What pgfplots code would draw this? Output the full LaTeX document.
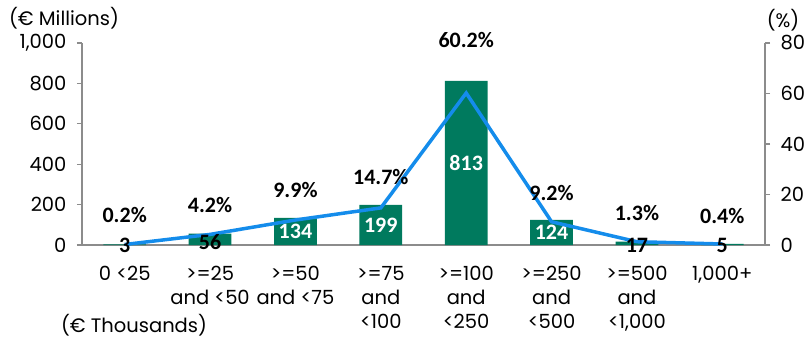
\documentclass[border=0pt]{standalone}
\usepackage{pgfplots}
\pgfplotsset{compat=1.18}
\usepackage{fontspec}
\setmainfont{Poppins}
\newfontfamily\lblfont{Carlito}
\definecolor{barg}{RGB}{0,122,94}
\definecolor{lineb}{RGB}{20,140,235}
\definecolor{axg}{RGB}{140,140,140}
\begin{document}
\begin{tikzpicture}
\pgfplotsset{
  base/.style={
    scale only axis, width=683pt, height=202pt,
    xmin=-0.5, xmax=7.5,
    axis line style={axg, line width=1.2pt},
    tick style={axg, line width=1.2pt},
    tick label style={font=\fontsize{19.5}{22}\selectfont},
    /pgf/number format/assume math mode=true,
  }
}
\begin{axis}[base,
  ymin=0, ymax=1000, ytick={0,200,400,600,800,1000},
  axis y line*=left, axis x line*=bottom,
  y tick label style={/pgf/number format/1000 sep={,}, xshift=-7pt},
  ytick align=outside, major tick length=5pt,
  xtick={0,...,7},
  x tick label style={align=center, anchor=north, yshift=-13pt, font=\fontsize{19.5}{24}\selectfont},
  xticklabels={{0 <25},{>=25\\and <50},{>=50\\and <75},{>=75\\and\\<100},{>=100\\and\\<250},{>=250\\and\\<500},{>=500\\and\\<1,000},{1,000+}},
  x tick style={draw=none},
  minor xtick={-0.5,0.5,...,7.5},
  minor x tick style={axg, line width=1.2pt},
  minor tick length=7pt,
  xtick align=outside,
  clip=false,
]
\addplot[ybar, bar width=0.5, fill=barg, draw=none] coordinates {
(0,3) (1,56) (2,134) (3,199) (4,813) (5,124) (6,17) (7,5)};
% value labels inside bars (white)
\addplot[draw=none, mark=none, nodes near coords, point meta=explicit symbolic,
  every node near coord/.style={anchor=center, text=white, font=\lblfont\bfseries\fontsize{22}{22}\selectfont}]
  coordinates {(2,67)[134] (3,99.5)[199] (4,406.5)[813] (5,62)[124]};
\node[font=\fontsize{19.5}{22}\selectfont] at (rel axis cs:0,0) [xshift=52pt, yshift=-80pt] {(€ Thousands)};
\node[font=\fontsize{19.5}{22}\selectfont] at (rel axis cs:0,1) [xshift=-18pt, yshift=25pt] {(€ Millions)};
\node[font=\fontsize{19.5}{22}\selectfont] at (rel axis cs:1,1) [xshift=18pt, yshift=23pt] {(\%)};
\end{axis}
\begin{axis}[base,
  ymin=0, ymax=80, ytick={0,20,40,60,80},
  axis y line*=right, axis x line=none,
  y tick label style={xshift=7pt},
  ytick align=outside, major tick length=5pt,
  clip=false,
]
\addplot[lineb, line width=3.5pt, mark=none] coordinates {
(0,0.2) (1,4.2) (2,9.9) (3,14.7) (4,60.2) (5,9.2) (6,1.3) (7,0.4)};
% value labels for small bars (black), in % axis units (value/1000*80)
\addplot[draw=none, mark=none, nodes near coords, point meta=explicit symbolic,
  every node near coord/.style={anchor=center, text=black, font=\lblfont\bfseries\fontsize{22}{22}\selectfont}]
  coordinates {(0,-0.3)[3] (1,1.3)[56] (6,-0.3)[17] (7,-0.3)[5]};
\addplot[draw=none, mark=none, nodes near coords, point meta=explicit symbolic,
  every node near coord/.style={anchor=center, text=black, font=\lblfont\bfseries\fontsize{22}{22}\selectfont}]
  coordinates {(0,11.9)[0.2\%] (1,15.8)[4.2\%] (2,21.8)[9.9\%] (3,26.9)[14.7\%] (4,81.2)[60.2\%] (5,20.6)[9.2\%] (6,12.7)[1.3\%] (7,11.5)[0.4\%]};
\end{axis}
\pgfresetboundingbox
\path[use as bounding box] (-82pt,-93pt) rectangle (728pt,245pt);
\end{tikzpicture}
\end{document}
